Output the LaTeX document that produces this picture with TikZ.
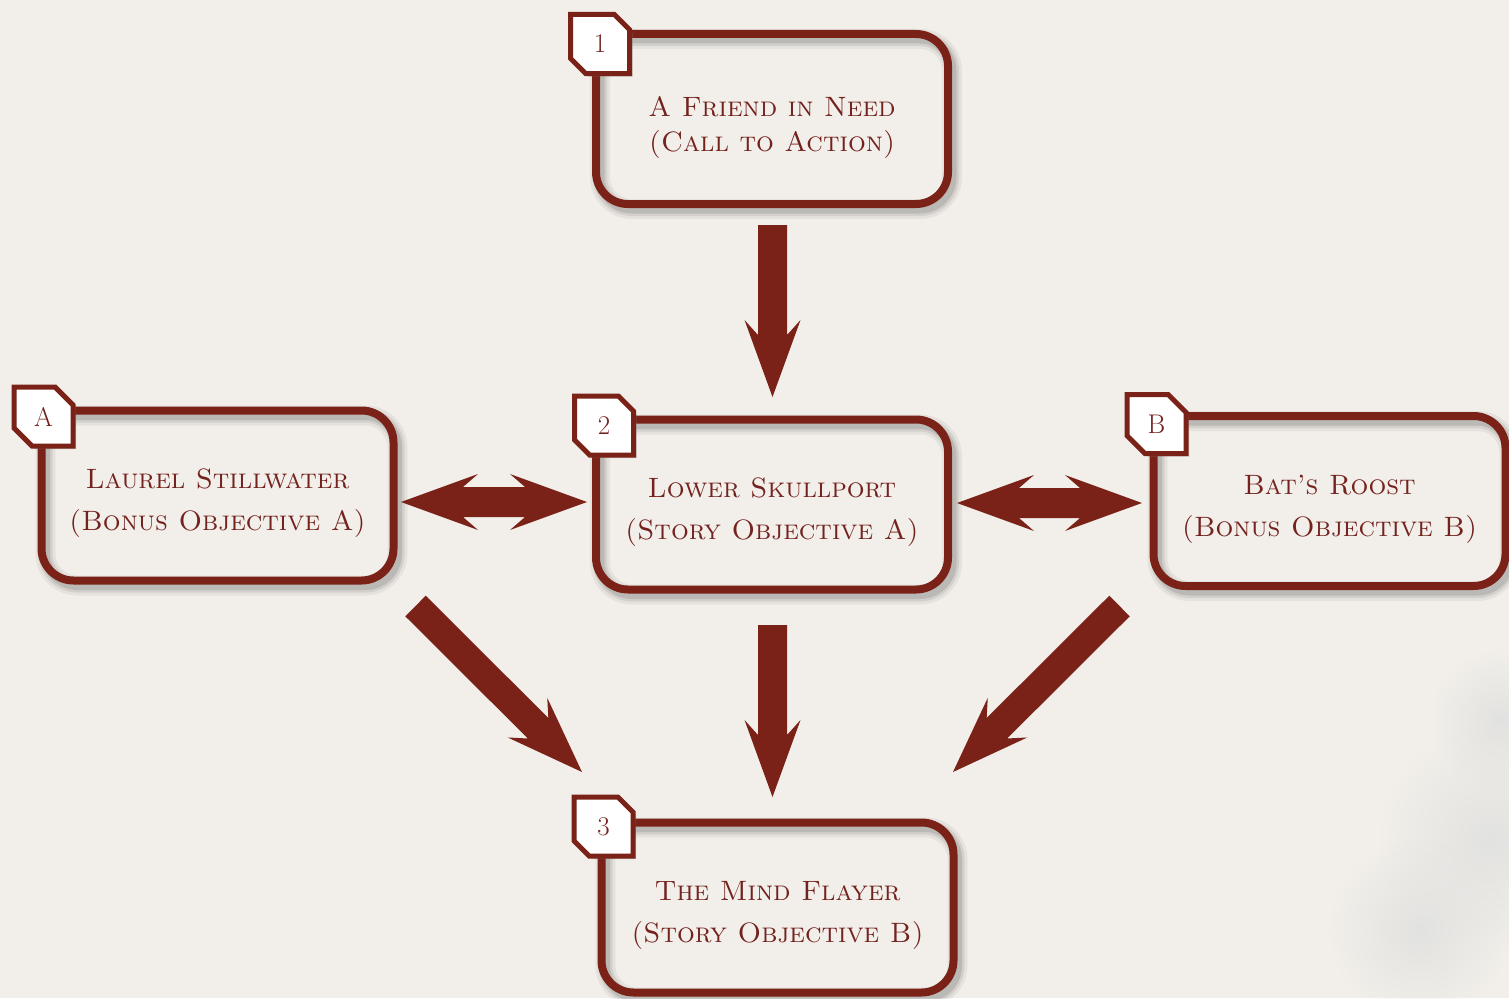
\documentclass[tikz,border=0pt]{standalone}
\usetikzlibrary{calc,shapes.misc,shadows,fadings}
\definecolor{bg}{RGB}{242,239,234}
\definecolor{dred}{RGB}{122,34,24}
\definecolor{tred}{RGB}{115,34,30}
\definecolor{blot}{RGB}{226,226,224}
\pgfdeclarelayer{background}
\pgfsetlayers{background,main}
\tikzfading[name=softspot, inner color=transparent!0, outer color=transparent!100]
\tikzset{
 box/.style={draw=dred, line width=8pt, rounded corners=32pt, minimum width=352pt, minimum height=170pt,
   outer sep=0pt, inner sep=0pt, text=tred, align=center, text height=77pt,
   font=\fontsize{28}{42}\selectfont\scshape},
 tagbox/.style={chamfered rectangle, chamfered rectangle corners={north east,south west},
   chamfered rectangle sep=9pt, draw=dred, line width=5pt, fill=white, minimum width=59pt, minimum height=59pt,
   inner sep=0pt, outer sep=0pt, text=tred, font=\fontsize{27}{30}\selectfont,
   drop shadow={shadow xshift=3pt, shadow yshift=-3pt, opacity=.35}},
 boxshade/.style={black, rounded corners=32pt}
}
\newcommand\blockarrow[2]{%
 \coordinate (baJ) at ($(#2)!62pt!(#1)$);
 \coordinate (baB) at ($(#2)!77pt!(#1)$);
 \fill[dred] ($(#1)!14.5pt!90:(#2)$) -- ($(baJ)!14.5pt!90:(#2)$) -- ($(baB)!28pt!90:(#2)$) -- (#2)
   -- ($(baB)!28pt!-90:(#2)$) -- ($(baJ)!14.5pt!-90:(#2)$) -- ($(#1)!14.5pt!-90:(#2)$) -- cycle;}
\newcommand\dblarrow[2]{%
 \coordinate (daJa) at ($(#1)!62pt!(#2)$);
 \coordinate (daBa) at ($(#1)!77pt!(#2)$);
 \coordinate (daJb) at ($(#2)!62pt!(#1)$);
 \coordinate (daBb) at ($(#2)!77pt!(#1)$);
 \fill[dred] (#1) -- ($(daBa)!28pt!90:(#2)$) -- ($(daJa)!15pt!90:(#2)$) -- ($(daJb)!15pt!90:(#2)$)
   -- ($(daBb)!28pt!90:(#2)$) -- (#2) -- ($(daBb)!28pt!-90:(#2)$) -- ($(daJb)!15pt!-90:(#2)$)
   -- ($(daJa)!15pt!-90:(#2)$) -- ($(daBa)!28pt!-90:(#2)$) -- cycle;}
\begin{document}
\begin{tikzpicture}[x=1pt,y=-1pt]
\useasboundingbox (0,0) rectangle (1509,998);
% boxes
\node[box, text height=72pt, font=\fontsize{28}{35}\selectfont\scshape] (n1) at (772,119) {A Friend in Need\\(Call to Action)};
\node[box] (nA) at (217.5,495.5) {Laurel Stillwater\\(Bonus Objective A)};
\node[box] (n2) at (772,504.5) {Lower Skullport\\(Story Objective A)};
\node[box] (nB) at (1329.5,501) {Bat's Roost\\(Bonus Objective B)};
\node[box] (n3) at (777.5,907.5) {The Mind Flayer\\(Story Objective B)};
% background, faint texture and shadows
\begin{pgfonlayer}{background}
\fill[bg] (0,0) rectangle (1509,998);
\foreach \cx/\cy/\r in {1500/720/70,1490/840/110,1420/930/90}{
  \fill[blot, path fading=softspot] (\cx,\cy) circle[radius=\r pt];
}
\foreach \n in {n1,nA,n2,nB,n3}{
  \foreach \w/\o in {20/0.05,14/0.08,9/0.11}
    \draw[boxshade, opacity=\o, line width=\w pt] ([shift={(4,5)}]\n.north west) rectangle ([shift={(4,5)}]\n.south east);
}
\end{pgfonlayer}
% tags
\node[tagbox] (tg1) at ([shift={(4,10)}]n1.north west) {1};
\node[tagbox] (tgA) at ([shift={(2,6)}]nA.north west) {A};
\node[tagbox] (tg2) at ([shift={(8,6)}]n2.north west) {2};
\node[tagbox] (tgB) at ([shift={(3,8)}]nB.north west) {B};
\node[tagbox] (tg3) at ([shift={(2,4)}]n3.north west) {3};
% arrow end points
\coordinate (s12) at ($(n1.south)+(0.5,21)$);
\coordinate (e12) at ($(n2.north)+(0.5,-22.5)$);
\coordinate (s23) at ($(n2.south)+(0.5,35.5)$);
\coordinate (e23) at ($(n3.north)+(-5,-25.5)$);
\coordinate (sA3) at ($(nA.south east)+(22,25.5)$);
\coordinate (eA3) at ($(n3.north west)+(-19.5,-50.5)$);
\coordinate (sB3) at ($(nB.south west)+(-34,20)$);
\coordinate (eB3) at ($(n3.north east)+(-0.5,-50.5)$);
\coordinate (lA2) at ($(nA.east)+(7.5,6.5)$);
\coordinate (rA2) at ($(n2.west)+(-9,-2.5)$);
\coordinate (l2B) at ($(n2.east)+(9,-1.5)$);
\coordinate (r2B) at ($(nB.west)+(-11.5,2)$);
% arrows
\blockarrow{s12}{e12}
\blockarrow{s23}{e23}
\blockarrow{sA3}{eA3}
\blockarrow{sB3}{eB3}
\dblarrow{lA2}{rA2}
\dblarrow{l2B}{r2B}
\end{tikzpicture}
\end{document}
